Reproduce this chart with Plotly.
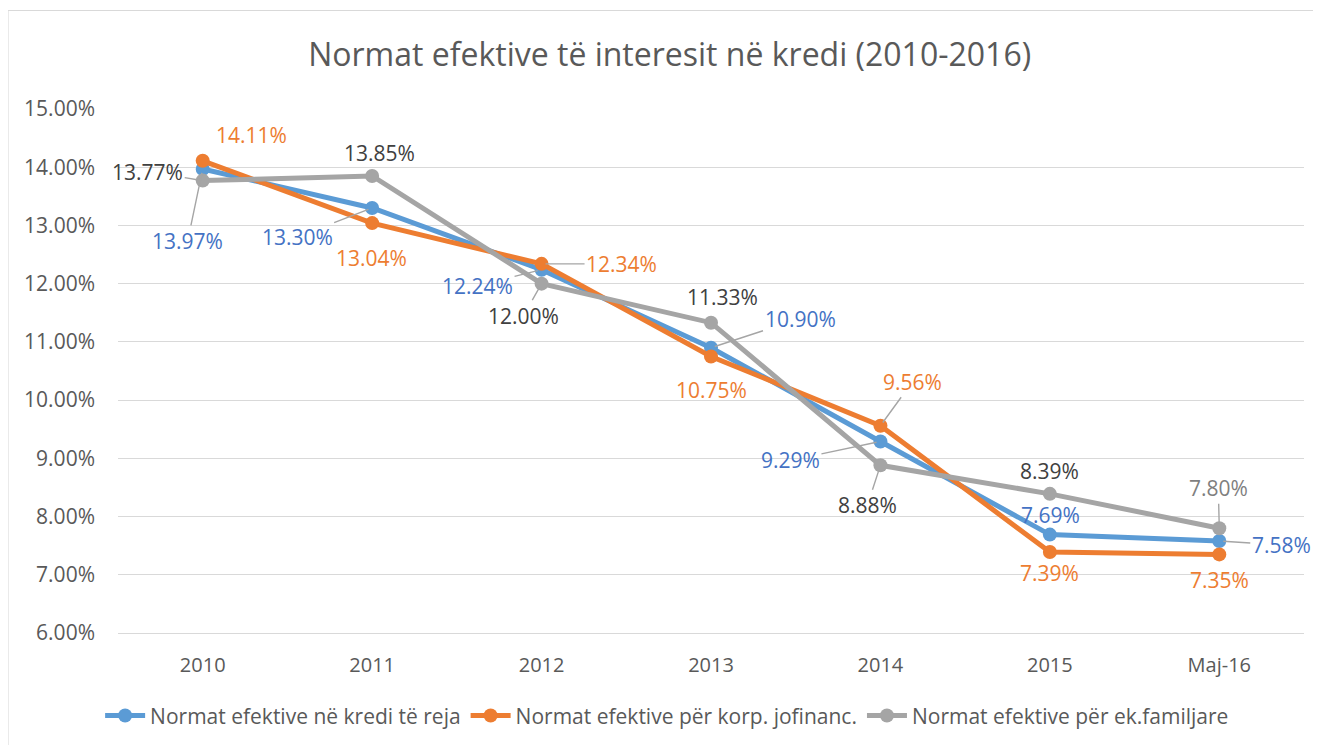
import plotly.graph_objects as go

categories = ["2010", "2011", "2012", "2013", "2014", "2015", "Maj-16"]
series_names = [
    "Normat efektive në kredi të reja",
    "Normat efektive për korp. jofinanc.",
    "Normat efektive për ek.familjare",
]
new_loans = [13.97, 13.30, 12.24, 10.90, 9.29, 7.69, 7.58]
corporate = [14.11, 13.04, 12.34, 10.75, 9.56, 7.39, 7.35]
households = [13.77, 13.85, 12.00, 11.33, 8.88, 8.39, 7.80]
y_ticks = [6, 7, 8, 9, 10, 11, 12, 13, 14, 15]

line_colors = ["#5b9bd5", "#ed7d31", "#a5a5a5"]
series_values = [new_loans, corporate, households]
FONT = "Open Sans, Lato, sans-serif"

fig = go.Figure()
for name, vals, col in zip(series_names, series_values, line_colors):
    fig.add_trace(go.Scatter(
        x=categories, y=vals, name=name, mode="lines+markers",
        line=dict(color=col, width=5),
        marker=dict(color=col, size=14),
        hoverinfo="skip",
    ))

# label placement: (dx, dy pixels from point to label centre, leader line?)
label_pos = [
    [(-15, 72, True), (-75, 29, True), (-64, 16, True), (89, -29, True),
     (-90, 19, True), (1, -20, False), (62, 4, True)],
    [(49, -26, False), (-1, 35, False), (80, 0, True), (0, 34, False),
     (32, -44, True), (0, 21, False), (0, 26, False)],
    [(-55, -9, True), (7, -23, False), (-18, 32, True), (11, -26, False),
     (-13, 40, True), (0, -23, False), (-1, -40, True)],
]
label_colors = [
    ["#4472c4"] * 7,
    ["#ed7d31"] * 7,
    ["#404040"] * 6 + ["#7f7f7f"],
]

annotations = []
for s, vals in enumerate(series_values):
    for i, v in enumerate(vals):
        dx, dy, leader = label_pos[s][i]
        txt = f"{v:.2f}%"
        fnt = dict(family=FONT, size=21, color=label_colors[s][i])
        if leader:
            annotations.append(dict(
                x=i, y=v, xref="x", yref="y", text=txt, font=fnt,
                showarrow=True, arrowhead=0, arrowwidth=1.4, arrowcolor="#a5a5a5",
                ax=dx, ay=dy, standoff=4,
            ))
        else:
            annotations.append(dict(
                x=i, y=v, xref="x", yref="y", text=txt, font=fnt,
                showarrow=False, xshift=dx, yshift=-dy,
            ))

fig.update_layout(
    width=1305, height=737,
    margin=dict(l=110, r=9, t=101, b=109),
    paper_bgcolor="white", plot_bgcolor="white",
    title=dict(text="Normat efektive të interesit në kredi (2010-2016)",
               x=0.507, xanchor="center", y=0.936, yanchor="middle",
               font=dict(family=FONT, size=32, color="#595959")),
    xaxis=dict(type="category", range=[-0.5, 6.5], showgrid=False,
               showline=True, linecolor="#d9d9d9", linewidth=1,
               ticks="", tickfont=dict(family=FONT, size=20, color="#595959"),
               ticklabelstandoff=14),
    yaxis=dict(range=[6, 15], tickvals=y_ticks,
               ticktext=[f"{t:.2f}%" for t in y_ticks],
               showgrid=True, gridcolor="#d9d9d9", gridwidth=1, zeroline=False,
               showline=False, ticks="",
               tickfont=dict(family=FONT, size=21, color="#595959"),
               ticklabelstandoff=22),
    legend=dict(orientation="h", x=0.463, xanchor="center", y=-0.158, yanchor="middle",
                font=dict(family=FONT, size=21, color="#595959"),
                itemwidth=40, tracegroupgap=0),
    annotations=annotations,
    shapes=[
        dict(type="line", xref="paper", yref="paper", x0=-0.0927, x1=1.1,
             y0=1.188, y1=1.188, line=dict(color="#d9d9d9", width=1), layer="below"),
        dict(type="line", xref="paper", yref="paper", x0=-0.0927, x1=-0.0927,
             y0=1.188, y1=-0.3, line=dict(color="#d9d9d9", width=1), layer="below"),
    ],
)

fig.write_html("out.html")
